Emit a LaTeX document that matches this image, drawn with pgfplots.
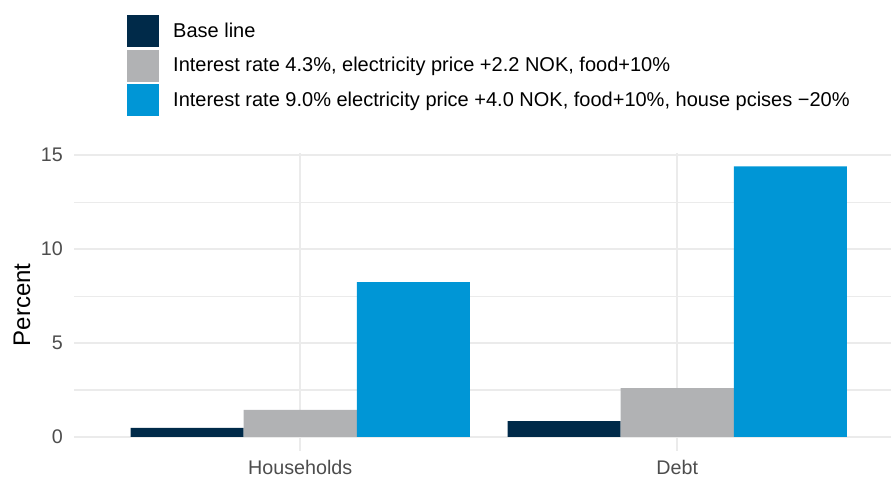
\documentclass[border=0pt]{standalone}
\usepackage{pgfplots}
\pgfplotsset{compat=1.18}
\usepackage{fontspec}
\setmainfont{Liberation Sans}
\definecolor{cnavy}{RGB}{0,42,73}
\definecolor{cgray}{RGB}{177,178,180}
\definecolor{cblue}{RGB}{0,150,214}
\definecolor{gridc}{RGB}{235,235,235}
\definecolor{ticktext}{RGB}{77,77,77}
\begin{document}
\begin{tikzpicture}
\path[use as bounding box] (-74pt,-29pt) rectangle (817pt,450.5pt);
\begin{axis}[
  at={(0,0)}, anchor=south west,
  scale only axis, width=817pt, height=297.5pt,
  xmin=-0.6, xmax=1.567, ymin=-0.72, ymax=15.12,
  xtick={0,1}, xticklabels={Households,Debt},
  ytick={0,5,10,15}, minor ytick={2.5,7.5,12.5},
  ymajorgrids, xmajorgrids, yminorgrids,
  major grid style={draw=gridc, line width=2.2pt},
  minor grid style={draw=gridc, line width=1.2pt},
  axis line style={draw=none},
  major tick length=0pt, minor tick length=0pt,
  tick style={draw=none},
  /pgf/number format/assume math mode=true,
  ticklabel style={font=\fontsize{19.7}{23}\selectfont, text=ticktext},
  xticklabel style={anchor=north, inner sep=0pt, yshift=-10pt},
  yticklabel style={anchor=east, inner sep=0pt, xshift=-11pt},
  ylabel={Percent},
  ylabel style={at={(axis description cs:-0.0636,0.49)}, anchor=center, font=\fontsize{24}{28}\selectfont},
  ybar=0pt, bar width=0.3,
  legend image code/.code={\fill[#1,draw=none] (0pt,-10pt) rectangle (32pt,22pt);},
  legend style={at={(axis description cs:0.0649,1.4639)}, anchor=north west,
    draw=none, fill=none, inner sep=0pt, row sep=2.5pt, column sep=14pt,
    nodes={inner sep=0pt, anchor=base west},
    font=\fontsize{20}{23}\selectfont},
  legend cell align=left,
]
\addplot[fill=cnavy, draw=none, bar shift=-0.3] coordinates {(0,0.48) (1,0.85)};
\addplot[fill=cgray, draw=none, bar shift=0] coordinates {(0,1.44) (1,2.6)};
\addplot[fill=cblue, draw=none, bar shift=0.3] coordinates {(0,8.24) (1,14.41)};
\legend{Base line, {Interest rate 4.3\%, electricity price +2.2 NOK, food+10\%}, {Interest rate 9.0\% electricity price +4.0 NOK, food+10\%, house pcises −20\%}}
\end{axis}
\end{tikzpicture}
\end{document}
